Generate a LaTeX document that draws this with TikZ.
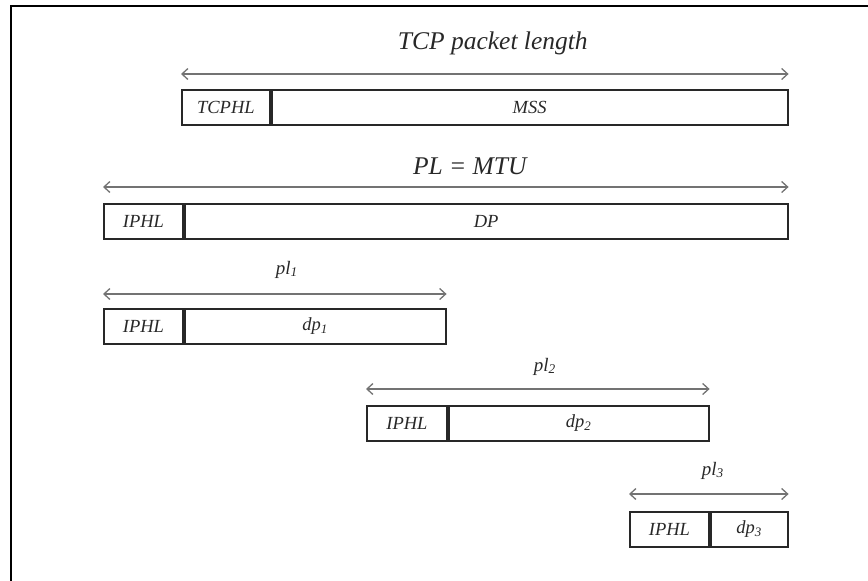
\documentclass[tikz,border=0pt]{standalone}
\usepackage{fontspec}
\setmainfont{Liberation Serif}
\usetikzlibrary{arrows.meta,positioning}
\definecolor{pktgray}{RGB}{115,115,115}
\definecolor{pktink}{RGB}{40,40,40}

\begin{document}
\begin{tikzpicture}[x=1pt,y=-1pt,
    fld/.style={draw=pktink,line width=1.8pt,minimum height=35pt,inner sep=0pt,text=pktink,font=\fontsize{18.5}{20}\selectfont\itshape},
    span/.style={{Straight Barb[length=6pt,width=11pt]}-{Straight Barb[length=6pt,width=11pt]},pktgray,line width=1.3pt},
    lbl/.style={text=pktink,anchor=base,font=\fontsize{19}{21}\selectfont\itshape},
    big/.style={lbl,font=\fontsize{25.5}{28}\selectfont\itshape}
  ]
  \useasboundingbox (0,0) rectangle (868,581);
  \draw[line width=2.5pt] (11,581) -- (11,6) -- (868,6);

  % TCP segment
  \node[fld,anchor=north west,minimum width=88pt] (tcphl) at (181,89) {TCPHL};
  \node[fld,right=0pt of tcphl,minimum width=516pt] (mss) {MSS};
  \draw[span] ([yshift=15pt]tcphl.north west) -- ([yshift=15pt]mss.north east)
    node[big,midway,xshift=8pt,yshift=25pt] (tcplen) {TCP packet length};

  % IP packet
  \node[fld,anchor=north west,minimum width=79pt] (iphl) at (103,203) {IPHL};
  \node[fld,right=0pt of iphl,minimum width=603pt] (dp) {DP};
  \draw[span] ([yshift=16pt]iphl.north west) -- ([yshift=16pt]dp.north east)
    node[big,midway,xshift=24pt,yshift=13pt] (pl) {PL = MTU};

  % fragments
  \node[fld,anchor=north west,minimum width=79pt] (iphla) at (103,308) {IPHL};
  \node[fld,right=0pt of iphla,minimum width=261pt] (dpa) {dp\textsubscript{1}};
  \draw[span] ([yshift=14pt]iphla.north west) -- ([yshift=14pt]dpa.north east)
    node[lbl,midway,xshift=12pt,yshift=20pt] (pla) {pl\textsubscript{1}};

  \node[fld,anchor=north west,minimum width=80pt] (iphlb) at (366,405) {IPHL};
  \node[fld,right=0pt of iphlb,minimum width=260pt] (dpb) {dp\textsubscript{2}};
  \draw[span] ([yshift=16pt]iphlb.north west) -- ([yshift=16pt]dpb.north east)
    node[lbl,midway,xshift=7pt,yshift=18pt] (plb) {pl\textsubscript{2}};

  \node[fld,anchor=north west,minimum width=79pt] (iphlc) at (629,511) {IPHL};
  \node[fld,right=0pt of iphlc,minimum width=77pt] (dpc) {dp\textsubscript{3}};
  \draw[span] ([yshift=17pt]iphlc.north west) -- ([yshift=17pt]dpc.north east)
    node[lbl,midway,xshift=4pt,yshift=19pt] (plc) {pl\textsubscript{3}};
\end{tikzpicture}
\end{document}
